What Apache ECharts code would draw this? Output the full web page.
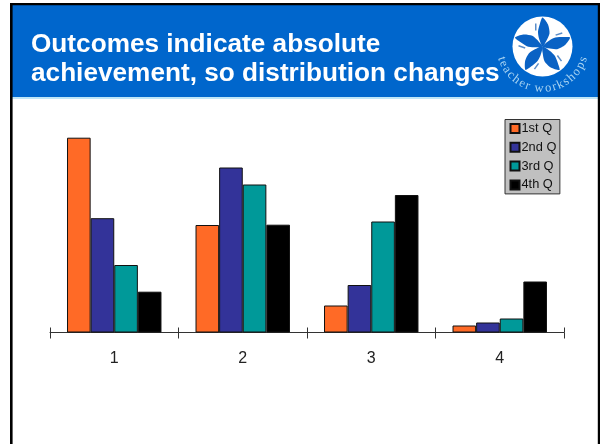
<!DOCTYPE html>
<html>
<head>
<meta charset="utf-8">
<style>html,body{margin:0;padding:0;background:#fff}#c{width:600px;height:444px}</style>
<script src="https://cdn.jsdelivr.net/npm/echarts@6/dist/echarts.min.js"></script>
</head>
<body>
<div id="c"></div>
<script>
const categories = ['1', '2', '3', '4'];
const q1 = [194.8, 107.5, 27, 7];
const q2 = [114.3, 165, 47.5, 10];
const q3 = [67.5, 148, 111, 14];
const q4 = [40.8, 107.8, 137.5, 51];
const seriesNames = ['1st Q', '2nd Q', '3rd Q', '4th Q'];
const seriesColors = ['#ff6a26', '#333399', '#009999', '#000000'];
const titleText = 'Outcomes indicate absolute\nachievement, so distribution changes';
const logoText = 'teacher workshops';

const chart = echarts.init(document.getElementById('c'), null, {renderer: 'canvas'});

const cx = 542.5, cy = 46.5;
const petalOutline = [[0,0],[-3.5,-8],[-4.5,-15],[-2.5,-23],[0,-29],[5.5,-22],[7,-13],[3.5,-5]];
const petalMark = [[-7.5,-16],[-6,-16],[-6,-23],[-7.5,-23]];
const logoParts = [];
[0, 72, 144, 216, 288].forEach(function (deg) {
  const rot = -deg * Math.PI / 180;
  logoParts.push({type: 'polygon', x: cx, y: cy, rotation: rot, z: 3, shape: {points: petalOutline, smooth: 0.25}, style: {fill: '#0a62c4'}});
  logoParts.push({type: 'polygon', x: cx, y: cy, rotation: rot, z: 3, shape: {points: petalMark}, style: {fill: '#5a8cc8'}});
});
const logoFont = '12.5px "Liberation Serif"';
const meas = document.createElement('canvas').getContext('2d');
meas.font = logoFont;
const widths = logoText.split('').map(function (c) { return meas.measureText(c).width; });
const total = widths.reduce(function (a, b) { return a + b; }, 0);
const span = 150;
let run = 0;
const letters = logoText.split('').map(function (ch, i) {
  const a = (-span / 2 + span * (run + widths[i] / 2) / total) * Math.PI / 180;
  run += widths[i];
  return {
    type: 'text', x: cx + 43 * Math.sin(a), y: cy - 1 + 43 * Math.cos(a), rotation: a, z: 4,
    style: {text: ch, fill: '#a8d4f2', font: logoFont, align: 'center', verticalAlign: 'middle'}
  };
});

chart.setOption({
  animation: false,
  backgroundColor: '#ffffff',
  title: {
    text: titleText, left: 26, top: 25,
    textStyle: {color: '#ffffff', fontFamily: 'Liberation Sans', fontWeight: 'bold', fontSize: 26.2, lineHeight: 29}
  },
  legend: {
    show: true, left: 505, top: 119.5, orient: 'vertical', padding: [2.5, 3.5, 2.5, 4.5],
    backgroundColor: '#c0c0c0', borderColor: '#333333', borderWidth: 1, borderRadius: 0,
    itemWidth: 9, itemHeight: 9, itemGap: 5.8, icon: 'rect',
    textStyle: {fontFamily: 'Liberation Sans', fontSize: 12.8, color: '#111111', padding: [0, 0, 0, -3]},
    data: seriesNames
  },
  grid: {left: 50, right: 36, top: 132.5, height: 200},
  xAxis: [
    {
      type: 'category', data: categories, position: 'bottom',
      axisLine: {lineStyle: {color: '#333333', width: 1}},
      axisTick: {show: true, length: 6, lineStyle: {color: '#333333'}},
      axisLabel: {color: '#222222', fontFamily: 'Liberation Sans', fontSize: 16, margin: 18}
    },
    {
      type: 'category', data: categories, position: 'bottom',
      axisLine: {show: false},
      axisTick: {show: true, inside: true, length: 5, lineStyle: {color: '#333333'}},
      axisLabel: {show: false}
    }
  ],
  yAxis: {type: 'value', min: 0, max: 200, show: false, splitLine: {show: false}},
  series: [q1, q2, q3, q4].map(function (vals, i) {
    return {
      name: seriesNames[i], type: 'bar', data: vals, barGap: 0, barCategoryGap: '26.5%',
      itemStyle: {color: seriesColors[i], borderColor: '#111111', borderWidth: 1}
    };
  }),
  graphic: [
    {type: 'rect', shape: {x: 12, y: 5, width: 586, height: 92}, style: {fill: '#0066cc'}, z: -10},
    {type: 'rect', shape: {x: 12, y: 97, width: 586, height: 2}, style: {fill: '#bfe6f7'}, z: -10},
    {type: 'rect', shape: {x: 10, y: 3, width: 590, height: 2.3}, style: {fill: '#000000'}, z: 5},
    {type: 'rect', shape: {x: 10, y: 3, width: 2.6, height: 441}, style: {fill: '#000000'}, z: 5},
    {type: 'rect', shape: {x: 597.8, y: 3, width: 2.2, height: 441}, style: {fill: '#000000'}, z: 5},
    {type: 'circle', shape: {cx: cx, cy: cy, r: 30}, style: {fill: '#ffffff'}, z: 2}
  ].concat(logoParts, letters)
});
</script>
</body>
</html>
